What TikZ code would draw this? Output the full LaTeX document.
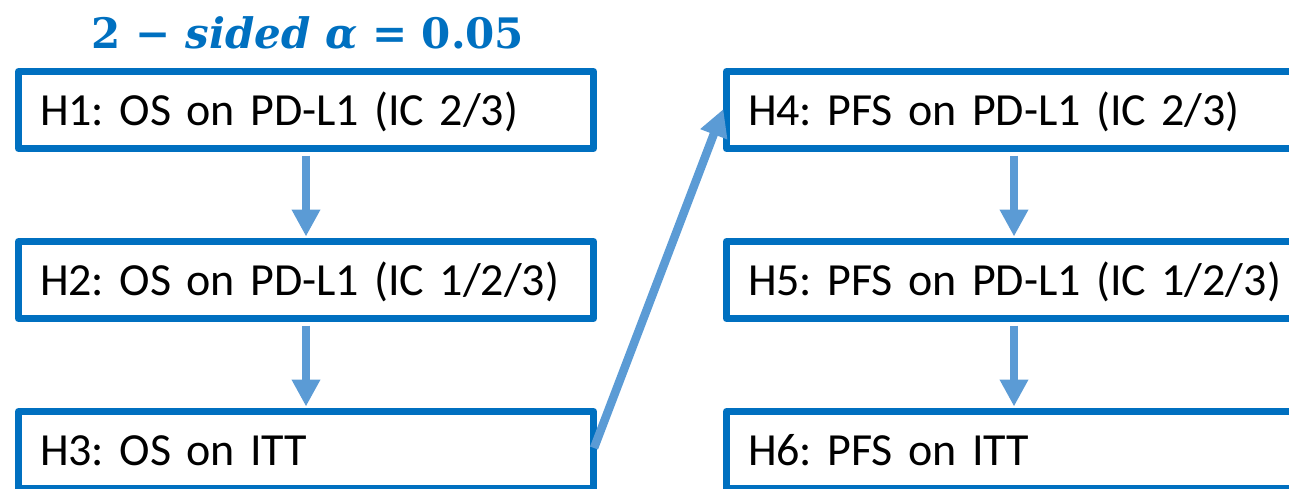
\documentclass[tikz,border=0pt]{standalone}
\usepackage{fontspec}
\newfontfamily\boxfont{Carlito}
\newfontfamily\titlefont{DejaVu Serif}
\usetikzlibrary{arrows.meta}
\definecolor{boxblue}{HTML}{0070C0}
\definecolor{arrowblue}{HTML}{5B9BD5}
\tikzset{
  hbox/.style={draw=boxblue, line width=7pt, line join=round,
    minimum width=575pt, minimum height=77pt, text width=560pt,
    inner xsep=7.5pt, inner ysep=0pt, align=left,
    text height=30pt, text depth=0pt,
    execute at begin node={\hspace*{14pt}},
    font=\boxfont\fontsize{46}{56}\selectfont\frenchspacing},
  flow/.style={draw=arrowblue, line width=8.5pt,
    -{Triangle[width=27pt,length=27pt]}},
  titlestyle/.style={text=boxblue, anchor=base,
    font=\titlefont\bfseries\fontsize{42}{50}\selectfont}
}
\begin{document}
\begin{tikzpicture}[x=1pt,y=1pt]
\useasboundingbox (0,0) rectangle (1289,-488);
\node[titlestyle] (title) at (308,-48) {2 − {\itshape sided α} = 0.05};
\node[hbox] (h1) at (306,-110) {H1: OS on PD-L1 (IC 2/3)};
\node[hbox] (h2) at (306,-280) {H2: OS on PD-L1 (IC 1/2/3)};
\node[hbox] (h3) at (306,-450) {H3: OS on ITT};
\node[hbox] (h4) at (1014,-110) {H4: PFS on PD-L1 (IC 2/3)};
\node[hbox] (h5) at (1014,-280) {H5: PFS on PD-L1 (IC 1/2/3)};
\node[hbox] (h6) at (1014,-450) {H6: PFS on ITT};
\draw[flow, shorten <=3.5pt, shorten >=1.5pt] (h1.south) -- (h2.north);
\draw[flow, shorten <=3.5pt, shorten >=1.5pt] (h2.south) -- (h3.north);
\draw[flow, shorten <=3.5pt, shorten >=1.5pt] (h4.south) -- (h5.north);
\draw[flow, shorten <=3.5pt, shorten >=1.5pt] (h5.south) -- (h6.north);
\draw[flow, shorten >=-1pt] ([yshift=2pt,xshift=-3pt]h3.east) -- (h4.west);
\end{tikzpicture}
\end{document}
